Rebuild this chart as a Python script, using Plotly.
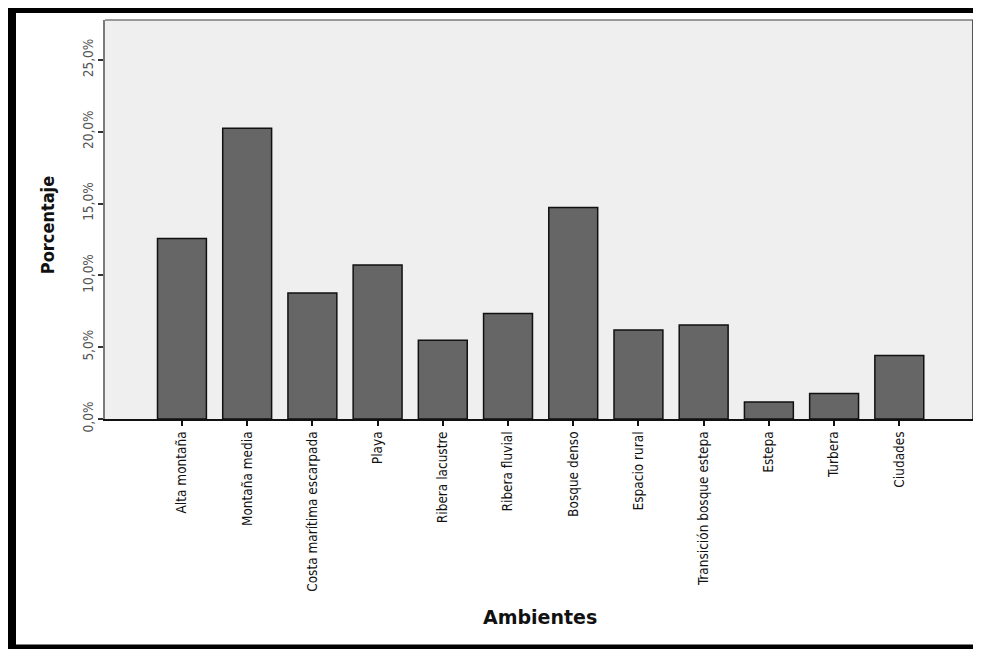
import plotly.graph_objects as go

categories = ["Alta montaña", "Montaña media", "Costa marítima escarpada", "Playa",
              "Ribera lacustre", "Ribera fluvial", "Bosque denso", "Espacio rural",
              "Transición bosque estepa", "Estepa", "Turbera", "Ciudades"]
percentages = [12.57, 20.24, 8.78, 10.73, 5.48, 7.34, 14.73, 6.19, 6.55, 1.18, 1.77, 4.42]
y_tickvals = [0, 5, 10, 15, 20, 25]
y_ticktext = ["0,0%", "5,0%", "10,0%", "15,0%", "20,0%", "25,0%"]

OFF = 8  # page body margin
W, H = 981 - OFF, 649 - OFF
L, R, T, B = 105 - OFF, 973 - OFF, 20 - OFF, 418.7 - OFF


def px(x):
    return (x - OFF - L) / (R - L)


def py(y):
    return (B - (y - OFF)) / (B - T)


fig = go.Figure(go.Bar(
    x=categories, y=percentages, width=0.75,
    marker=dict(color="#666666", line=dict(color="#111111", width=1.5)),
))

shapes = []
# outer black frame (left, top, bottom) in screen pixels
for x0, y0, x1, y1 in [(8, 8, 16, 660), (8, 6, 990, 13), (8, 644, 990, 660)]:
    shapes.append(dict(type="rect", xref="paper", yref="paper",
                       x0=px(x0), x1=px(x1), y0=py(y1), y1=py(y0),
                       fillcolor="black", line=dict(width=0), layer="above"))
# plot border top and right
shapes.append(dict(type="line", xref="paper", yref="paper", x0=0, x1=1, y0=1, y1=1,
                   line=dict(color="#7a7a7a", width=1.5)))
shapes.append(dict(type="line", xref="paper", yref="paper", x0=1, x1=1, y0=0, y1=1,
                   line=dict(color="#555555", width=2)))

fig.update_layout(
    width=W, height=H,
    margin=dict(l=L, r=W - R, t=T, b=H - B),
    paper_bgcolor="white", plot_bgcolor="#efefef",
    showlegend=False,
    shapes=shapes,
    font=dict(family="DejaVu Sans Condensed", color="#111111"),
    annotations=[
        dict(text="<b>Porcentaje</b>", xref="paper", yref="paper", x=px(47), y=py(225),
             xanchor="center", yanchor="middle",
             textangle=-90, showarrow=False,
             font=dict(family="DejaVu Sans Condensed", size=18, color="#111111")),
        dict(text="<b>Ambientes</b>", xref="paper", yref="paper", x=px(540), y=py(617),
             xanchor="center", yanchor="middle",
             showarrow=False,
             font=dict(family="DejaVu Sans", size=19, color="#111111")),
    ],
)

fig.update_xaxes(
    range=[-1.18, 12.13], showgrid=False, zeroline=False,
    showline=True, linecolor="#111111", linewidth=2,
    ticks="outside", ticklen=5, tickwidth=1.5, tickcolor="#111111",
    tickangle=-90, tickfont=dict(family="DejaVu Sans Condensed", size=13.5, color="#111111"),
)
fig.update_yaxes(
    range=[0, (B - T) / 14.35], showgrid=False, zeroline=False,
    showline=True, linecolor="#7a7a7a", linewidth=1.5,
    ticks="outside", ticklen=5, tickwidth=1.5, tickcolor="#333333",
    tickvals=y_tickvals, ticktext=y_ticktext,
    tickangle=-90, tickfont=dict(family="DejaVu Sans Condensed", size=13.5, color="#555555"),
)

fig.write_html("out.html")
